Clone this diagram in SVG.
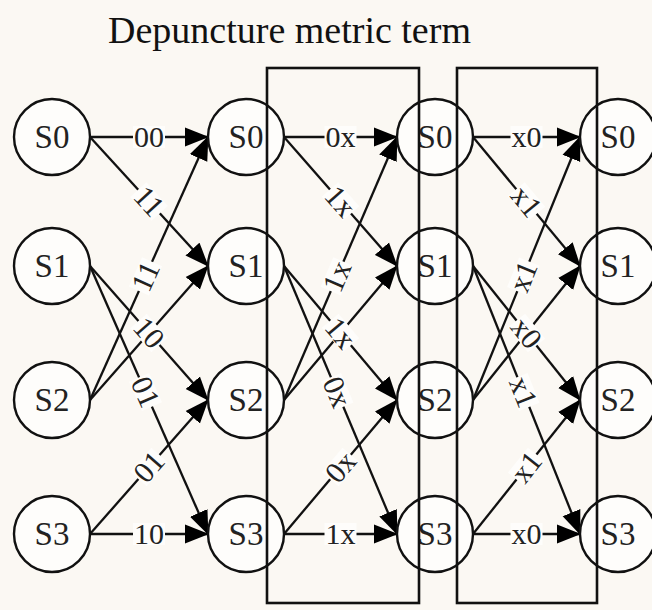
<svg xmlns="http://www.w3.org/2000/svg" width="652" height="610" viewBox="0 0 652 610">
<style>
.bg{fill:#fbf8f3}
.node circle{fill:#fefdfb;stroke:#111;stroke-width:2.4}
.node text{font-family:"Liberation Serif","Times New Roman",serif;font-size:33px;fill:#222;text-anchor:middle}
.edge line{stroke:#111;stroke-width:2.3;marker-end:url(#ah)}
.lbl rect{fill:#fefdfb}
.lbl text{font-family:"Liberation Serif","Times New Roman",serif;font-size:30px;fill:#222;text-anchor:middle}
.box{fill:none;stroke:#111;stroke-width:2.6}
.title{font-family:"Liberation Serif","Times New Roman",serif;font-size:38px;fill:#111}
</style>
<defs>
<marker id="ah" markerUnits="userSpaceOnUse" markerWidth="26" markerHeight="20" refX="23" refY="10" orient="auto" viewBox="0 0 26 20">
<path d="M0,0.5 L24,10 L0,19.5 z" fill="#000"/>
</marker>
</defs>
<rect class="bg" x="0" y="0" width="652" height="610"/>
<text class="title" x="108" y="43">Depuncture metric term</text>

<g id="connectors">
<g class="edge">
<line x1="90" y1="137" x2="208" y2="137"/>
<line x1="90" y1="137" x2="208" y2="266"/>
<line x1="90" y1="266" x2="208" y2="400"/>
<line x1="90" y1="266" x2="208" y2="534"/>
<line x1="90" y1="400" x2="208" y2="137"/>
<line x1="90" y1="400" x2="208" y2="266"/>
<line x1="90" y1="534" x2="208" y2="400"/>
<line x1="90" y1="534" x2="208" y2="534"/>

<line x1="284" y1="137" x2="397" y2="137"/>
<line x1="284" y1="137" x2="397" y2="266"/>
<line x1="284" y1="266" x2="397" y2="400"/>
<line x1="284" y1="266" x2="397" y2="534"/>
<line x1="284" y1="400" x2="397" y2="137"/>
<line x1="284" y1="400" x2="397" y2="266"/>
<line x1="284" y1="534" x2="397" y2="400"/>
<line x1="284" y1="534" x2="397" y2="534"/>

<line x1="473" y1="137" x2="580" y2="137"/>
<line x1="473" y1="137" x2="580" y2="266"/>
<line x1="473" y1="266" x2="580" y2="400"/>
<line x1="473" y1="266" x2="580" y2="534"/>
<line x1="473" y1="400" x2="580" y2="137"/>
<line x1="473" y1="400" x2="580" y2="266"/>
<line x1="473" y1="534" x2="580" y2="400"/>
<line x1="473" y1="534" x2="580" y2="534"/>
</g>
<g class="lbl">
<g transform="translate(149,137)"><rect x="-16" y="-11" width="32" height="22"/><text y="10">00</text></g>
<g transform="translate(149,201.5) rotate(47.55)"><rect x="-16" y="-11" width="32" height="22"/><text y="10">11</text></g>
<g transform="translate(145.5,276.4) rotate(-65.84)"><rect x="-16" y="-11" width="32" height="22"/><text y="10">11</text></g>
<g transform="translate(149,333) rotate(48.63)"><rect x="-16" y="-11" width="32" height="22"/><text y="10">10</text></g>
<g transform="translate(145.5,392) rotate(66.24)"><rect x="-16" y="-11" width="32" height="22"/><text y="10">01</text></g>
<g transform="translate(149,467) rotate(-48.63)"><rect x="-16" y="-11" width="32" height="22"/><text y="10">01</text></g>
<g transform="translate(149,534)"><rect x="-16" y="-11" width="32" height="22"/><text y="10">10</text></g>

<g transform="translate(340.5,137)"><rect x="-16" y="-11" width="32" height="22"/><text y="10">0x</text></g>
<g transform="translate(340.5,201.5) rotate(48.78)"><rect x="-16" y="-11" width="32" height="22"/><text y="10">1x</text></g>
<g transform="translate(337.1,276.4) rotate(-66.75)"><rect x="-16" y="-11" width="32" height="22"/><text y="10">1x</text></g>
<g transform="translate(340.5,333) rotate(49.86)"><rect x="-16" y="-11" width="32" height="22"/><text y="10">1x</text></g>
<g transform="translate(337.1,392) rotate(67.14)"><rect x="-16" y="-11" width="32" height="22"/><text y="10">0x</text></g>
<g transform="translate(340.5,467) rotate(-49.86)"><rect x="-16" y="-11" width="32" height="22"/><text y="10">0x</text></g>
<g transform="translate(340.5,534)"><rect x="-16" y="-11" width="32" height="22"/><text y="10">1x</text></g>

<g transform="translate(526.5,137)"><rect x="-16" y="-11" width="32" height="22"/><text y="10">x0</text></g>
<g transform="translate(526.5,201.5) rotate(50.32)"><rect x="-16" y="-11" width="32" height="22"/><text y="10">x1</text></g>
<g transform="translate(523.3,276.4) rotate(-67.86)"><rect x="-16" y="-11" width="32" height="22"/><text y="10">x1</text></g>
<g transform="translate(526.5,333) rotate(51.39)"><rect x="-16" y="-11" width="32" height="22"/><text y="10">x0</text></g>
<g transform="translate(523.3,392) rotate(68.23)"><rect x="-16" y="-11" width="32" height="22"/><text y="10">x1</text></g>
<g transform="translate(526.5,467) rotate(-51.39)"><rect x="-16" y="-11" width="32" height="22"/><text y="10">x1</text></g>
<g transform="translate(526.5,534)"><rect x="-16" y="-11" width="32" height="22"/><text y="10">x0</text></g>
</g>
</g>

<g id="n1s0" class="node"><circle cx="52" cy="137" r="38"/><text x="52" y="148">S0</text></g>
<g id="n1s1" class="node"><circle cx="52" cy="266" r="38"/><text x="52" y="277">S1</text></g>
<g id="n1s2" class="node"><circle cx="52" cy="400" r="38"/><text x="52" y="411">S2</text></g>
<g id="n1s3" class="node"><circle cx="52" cy="534" r="38"/><text x="52" y="545">S3</text></g>

<g id="n2s0" class="node"><circle cx="246" cy="137" r="38"/><text x="246" y="148">S0</text></g>
<g id="n2s1" class="node"><circle cx="246" cy="266" r="38"/><text x="246" y="277">S1</text></g>
<g id="n2s2" class="node"><circle cx="246" cy="400" r="38"/><text x="246" y="411">S2</text></g>
<g id="n2s3" class="node"><circle cx="246" cy="534" r="38"/><text x="246" y="545">S3</text></g>

<g id="n3s0" class="node"><circle cx="435" cy="137" r="38"/><text x="435" y="148">S0</text></g>
<g id="n3s1" class="node"><circle cx="435" cy="266" r="38"/><text x="435" y="277">S1</text></g>
<g id="n3s2" class="node"><circle cx="435" cy="400" r="38"/><text x="435" y="411">S2</text></g>
<g id="n3s3" class="node"><circle cx="435" cy="534" r="38"/><text x="435" y="545">S3</text></g>

<g id="n4s0" class="node"><circle cx="618" cy="137" r="38"/><text x="618" y="148">S0</text></g>
<g id="n4s1" class="node"><circle cx="618" cy="266" r="38"/><text x="618" y="277">S1</text></g>
<g id="n4s2" class="node"><circle cx="618" cy="400" r="38"/><text x="618" y="411">S2</text></g>
<g id="n4s3" class="node"><circle cx="618" cy="534" r="38"/><text x="618" y="545">S3</text></g>

<g id="boxes">
<rect class="box" x="267" y="68" width="152" height="535"/>
<rect class="box" x="457" y="68" width="140" height="535"/>
</g>
</svg>
